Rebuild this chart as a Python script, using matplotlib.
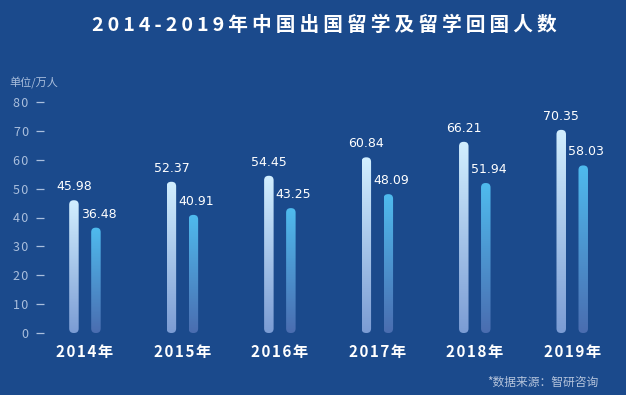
import numpy as np
import matplotlib
matplotlib.use("Agg")
import matplotlib.pyplot as plt
from matplotlib.patches import FancyBboxPatch
from matplotlib.colors import to_rgb

plt.rcParams['font.family'] = ['Noto Sans CJK SC', 'DejaVu Sans']

years = ['2014年', '2015年', '2016年', '2017年', '2018年', '2019年']
outgoing = [45.98, 52.37, 54.45, 60.84, 66.21, 70.35]
returning = [36.48, 40.91, 43.25, 48.09, 51.94, 58.03]
yticks = [0, 10, 20, 30, 40, 50, 60, 70, 80]

bg = '#1b4a8c'
W, H = 626, 395
fig = plt.figure(figsize=(W / 100, H / 100), dpi=100, facecolor=bg)


def spaced(s, sp='\u2009'):
    # crude letter spacing
    return sp.join(s)


# axes in pixel terms: x 44..620, y 102..333
ax = fig.add_axes([44 / W, (H - 333) / H, (620 - 44) / W, (333 - 102) / H])
ax.set_facecolor(bg)
ax.set_xlim(-0.42, 5.49)
ax.set_ylim(0, 80)
for s in ax.spines.values():
    s.set_visible(False)

xpx = (620 - 44) / 5.91      # px per x unit
ypx = (333 - 102) / 80       # px per y unit
aspect = (1 / ypx) / (1 / xpx)

bw = 9.5 / xpx
off = 11 / xpx
rad = 4.5 / xpx


def grad_bar(x, h, top, bottom):
    x0 = x - bw / 2
    patch = FancyBboxPatch((x0, 0), bw, h,
                           boxstyle="round,pad=0,rounding_size=%f" % rad,
                           mutation_aspect=aspect, fc='none', ec='none')
    ax.add_patch(patch)
    t = np.linspace(0, 1, 200)[:, None]
    c1 = np.array(to_rgb(top))
    c2 = np.array(to_rgb(bottom))
    img = (c1 * (1 - t) + c2 * t)[:, None, :]
    im = ax.imshow(img, extent=[x0, x0 + bw, 0, h], aspect='auto',
                   interpolation='bilinear', zorder=2)
    im.set_clip_path(patch)


x = np.arange(len(years))
for i in range(len(years)):
    grad_bar(x[i] - off, outgoing[i], '#d2efff', '#7b9cd4')
    grad_bar(x[i] + off, returning[i], '#4fbbee', '#4a6db0')
    ax.annotate('%.2f' % outgoing[i], (x[i] - off, outgoing[i]),
                xytext=(0, 5), textcoords='offset points', ha='center',
                va='bottom', color='white', fontsize=9, family='DejaVu Sans')
    ax.annotate('%.2f' % returning[i], (x[i] + off, returning[i]),
                xytext=(2, 5), textcoords='offset points', ha='center',
                va='bottom', color='white', fontsize=9, family='DejaVu Sans')

ax.set_xticks(x)
ax.set_xticklabels([spaced(y, '\u200a') for y in years], color='white',
                   fontsize=11, fontweight='bold')
ax.tick_params(axis='x', length=0, pad=8)
ax.set_yticks(yticks)
ax.set_yticklabels([spaced(str(v), '\u200a') for v in yticks],
                   color='#aabfdd', fontsize=9)
ax.tick_params(axis='y', length=6, width=0.9, color='#aabfdd', pad=5)

fig.text(324 / W, 1 - 25 / H, spaced('2014-2019年中国出国留学及留学回国人数'),
         ha='center', va='center', color='white', fontsize=14.2,
         fontweight='bold')
fig.text(9 / W, 1 - 83 / H, '单位/万人', ha='left', va='center',
         color='#aabfdd', fontsize=8)
fig.text(598 / W, 1 - 382 / H, '*数据来源：智研咨询', ha='right',
         va='center', color='#b5c4dc', fontsize=8.5)

fig.savefig('out.png', dpi=100, facecolor=bg)
